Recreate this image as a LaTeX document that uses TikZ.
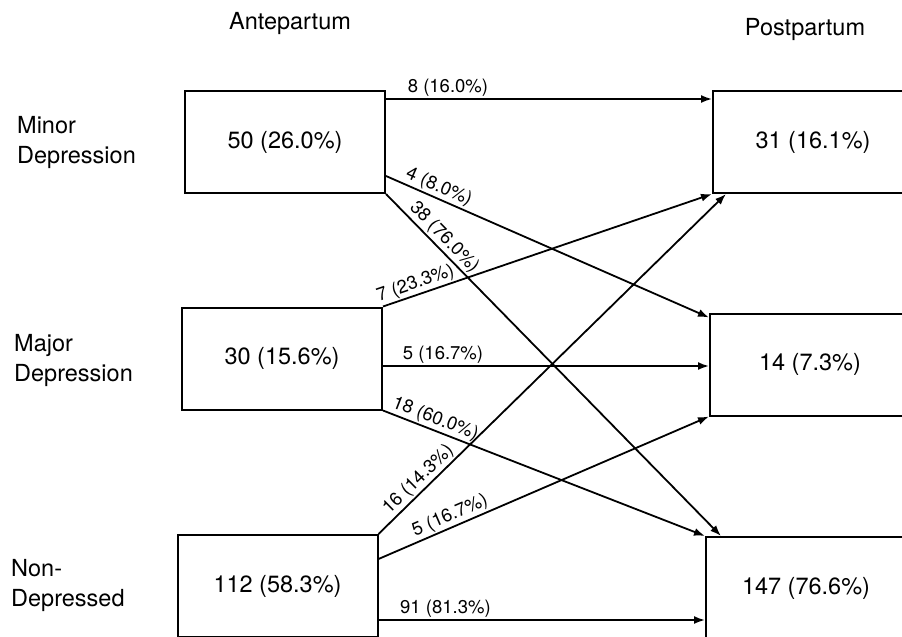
\documentclass[tikz,border=0pt]{standalone}
\usepackage{fontspec}
\setmainfont{TeX Gyre Heros}
\usetikzlibrary{arrows.meta}

\tikzset{
  box/.style={draw, line width=2pt, minimum width=200pt, minimum height=102pt,
    inner sep=0pt, font=\fontsize{23.5}{28}\selectfont},
  hd/.style={font=\fontsize{23.5}{28}\selectfont, inner sep=0pt},
  cls/.style={anchor=west, align=left, inner sep=0pt, font=\fontsize{23.5}{30}\selectfont},
  flow/.style={line width=1.8pt, -{Latex[length=11pt,width=8pt]}},
  lbl/.style={font=\fontsize{18.5}{22}\selectfont, inner sep=1.5pt}
}

\begin{document}
\begin{tikzpicture}[x=1pt, y=-1pt]
  \useasboundingbox (0,0) rectangle (902,637);
  \clip (0,0) rectangle (902,637);

  % headings
  \node[hd] (ante) at (290,23) {Antepartum};
  \node[hd] (post) at (805,29) {Postpartum};

  % row labels
  \node[cls] (lminor) at (17,142) {Minor\\Depression};
  \node[cls] (lmajor) at (14,360) {Major\\Depression};
  \node[cls] (lnon) at (11,585) {Non-\\Depressed};

  % antepartum boxes
  \node[box] (minor) at (285,142) {50 (26.0\%)};
  \node[box] (major) at (282,358.5) {30 (15.6\%)};
  \node[box] (nondep) at (277.5,586) {112 (58.3\%)};

  % postpartum boxes
  \node[box] (post31) at (813,142) {31 (16.1\%)};
  \node[box] (p14) at (810,364.5) {14 (7.3\%)};
  \node[box] (p147) at (806,588) {147 (76.6\%)};

  \coordinate (m5) at ([yshift=-7.5pt]major.east);
  \coordinate (n91) at ([yshift=18pt]nondep.south east);

  % from minor
  \draw[flow] ([yshift=-9pt]minor.north east) -- node[lbl, pos=0.19, above] {8 (16.0\%)} ([yshift=-9pt]post31.north west);
  \draw[flow] ([yshift=18pt]minor.south east) -- node[lbl, sloped, above, pos=0.15] {4 (8.0\%)} ([yshift=-5pt]p14.north west);
  \draw[flow] (minor.south east) -- node[lbl, sloped, above, pos=0.15] {38 (76.0\%)} ([xshift=16pt]p147.north west);

  % from major
  \draw[flow] (major.north east) -- node[lbl, sloped, above, pos=0.11] {7 (23.3\%)} (post31.south west);
  \draw[flow] (m5) -- node[lbl, pos=0.184, above] {5 (16.7\%)} (m5 -| p14.west);
  \draw[flow] (major.south east) -- node[lbl, sloped, above, pos=0.15] {18 (60.0\%)} (p147.north west);

  % from non-depressed
  \draw[flow] (nondep.north east) -- node[lbl, sloped, above, pos=0.137] {16 (14.3\%)} ([xshift=14pt]post31.south west);
  \draw[flow] ([yshift=-25pt]nondep.north east) -- node[lbl, sloped, above, pos=0.23] {5 (16.7\%)} (p14.south west);
  \draw[flow] (n91) -- node[lbl, pos=0.205, above] {91 (81.3\%)} (n91 -| p147.west);
\end{tikzpicture}
\end{document}
